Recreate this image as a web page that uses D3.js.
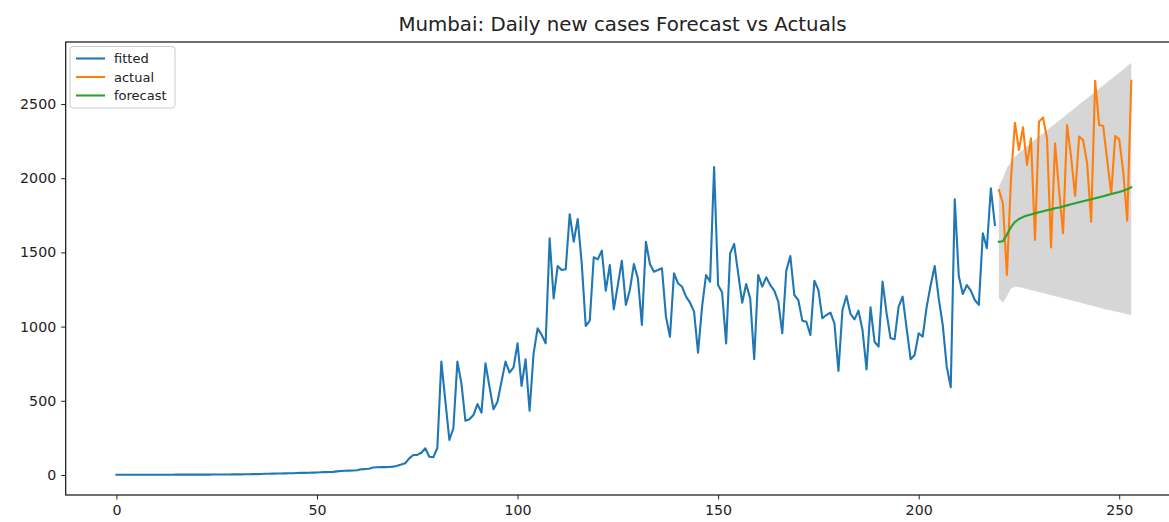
<!DOCTYPE html>
<html><head><meta charset="utf-8">
<script src="https://cdn.jsdelivr.net/npm/d3@7"></script>
<style>body{margin:0;background:#fff}svg{display:block}</style>
</head><body>
<svg id="chart" width="1169" height="522"></svg>
<script>
// ---- data ----
const title = "Mumbai: Daily new cases Forecast vs Actuals";
const seriesNames = ["fitted", "actual", "forecast"];
const xTicks = [0, 50, 100, 150, 200, 250];
const yTicks = [0, 500, 1000, 1500, 2000, 2500];

const fittedStart = 0;
const fitted = [
  1,1,1,1,1,1,1,1,1,1, 1,1,1,1,1,2,2,2,2,2, 2,2,2,2,3,3,3,3,3,4,
  4,4,5,5,6,6,7,8,8,9, 10,10,11,12,12,13,14,14,15,16, 17,18,19,20,21,24,27,28,29,30,
  32,38,40,42,50,52,53,53,54,56, 62,70,79,112,135,135,150,180,123,119,
  182,764,500,236,315,764,618,366,375,404, 478,420,752,595,443,494,630,764,690,725,
  887,600,779,433,820,988,945,887,1595,1190, 1408,1381,1386,1757,1572,1725,1426,1004,1040,1467,
  1453,1512,1242,1415,1116,1280,1444,1146,1247,1422, 1325,1011,1572,1422,1370,1381,1393,1067,932,1359,
  1292,1269,1202,1161,1101,824,1134,1348,1303,2075, 1280,1229,887,1494,1557,1359,1161,1287,1190,780,
  1348,1269,1332,1280,1242,1168,955,1377,1476,1213, 1179,1040,1033,943,1309,1247,1056,1078,1094,1022,
  701,1112,1206,1085,1049,1107,977,712,1130,898, 865,1303,1090,921,914,1134,1202,988,780,809,
  955,932,1134,1280,1408,1190,1011,730,591,1858, 1341,1220,1280,1242,1179,1146,1629,1528,1932,1685
];

const forecastStart = 220;
const actual = [
  1920,1831,1348,1990,2374,2190,2343,2089,2269,1584,
  2381,2410,2269,1534,2235,1920,1629,2358,2145,1880,
  2280,2257,2100,1707,2657,2358,2352,2123,1894,2284,
  2262,2044,1714,2657
];
const forecast = [
  1572,1575,1620,1670,1705,1725,1738,1748,1756,1763,
  1770,1777,1784,1790,1797,1803,1810,1817,1824,1831,
  1838,1845,1852,1858,1865,1872,1879,1886,1893,1900,
  1907,1915,1925,1939
];
const upper = [
  1943,1999,2070,2110,2145,2170,2193,2215,2237,2259,
  2281,2302,2324,2346,2367,2389,2410,2432,2453,2475,
  2496,2518,2539,2561,2582,2604,2625,2646,2668,2689,
  2711,2733,2756,2778
];
const lower = [
  1192,1160,1205,1255,1268,1266,1260,1254,1247,1240,
  1233,1226,1219,1212,1205,1198,1191,1184,1177,1170,
  1163,1156,1149,1142,1135,1128,1121,1114,1108,1102,
  1096,1090,1084,1078
];
const colors = ["#1f77b4", "#ff7f0e", "#2ca02c"];

// ---- layout ----
const L = 65.7, R = 1182, T = 42, B = 495;
const svg = d3.select("#chart");
const font = "DejaVu Sans, sans-serif";

const x = d3.scaleLinear().domain([-12.65, 265.65]).range([L, R]);
const y = d3.scaleLinear().domain([-135, 2918]).range([B, T]);

svg.append("defs").append("clipPath").attr("id", "clip")
  .append("rect").attr("x", L).attr("y", T).attr("width", R - L).attr("height", B - T);

const plot = svg.append("g").attr("clip-path", "url(#clip)");

const fittedPts = fitted.map((v, i) => [fittedStart + i, v]);
const actualPts = actual.map((v, i) => [forecastStart + i, v]);
const forecastPts = forecast.map((v, i) => [forecastStart + i, v]);
const bandPts = upper.map((u, i) => ({d: forecastStart + i, lo: lower[i], hi: u}));

plot.append("path").datum(bandPts)
  .attr("fill", "#d6d6d6")
  .attr("d", d3.area().x(d => x(d.d)).y0(d => y(d.lo)).y1(d => y(d.hi)));

const line = d3.line().x(d => x(d[0])).y(d => y(d[1]));
[[fittedPts, colors[0]], [actualPts, colors[1]], [forecastPts, colors[2]]].forEach(([pts, c]) => {
  plot.append("path").datum(pts)
    .attr("fill", "none").attr("stroke", c).attr("stroke-width", 2.1)
    .attr("stroke-linejoin", "round").attr("stroke-linecap", "square")
    .attr("d", line);
});

// axes
const xAxis = svg.append("g").attr("transform", `translate(0,${B})`)
  .call(d3.axisBottom(x).tickValues(xTicks).tickSize(4.5).tickPadding(5).tickFormat(d3.format("d")));
const yAxis = svg.append("g").attr("transform", `translate(${L},0)`)
  .call(d3.axisLeft(y).tickValues(yTicks).tickSize(4.5).tickPadding(5).tickFormat(d3.format("d")));
[xAxis, yAxis].forEach(g => {
  g.select(".domain").remove();
  g.selectAll("text").attr("font-family", font).attr("font-size", 14.2).attr("fill", "#222");
  g.selectAll("line").attr("stroke", "#222").attr("stroke-width", 1);
});

// frame
svg.append("rect").attr("x", L).attr("y", T).attr("width", R - L).attr("height", B - T)
  .attr("fill", "none").attr("stroke", "#111").attr("stroke-width", 1.2);

// title
svg.append("text").attr("x", 622.5).attr("y", 31)
  .attr("text-anchor", "middle").attr("font-family", font).attr("font-size", 19.8)
  .attr("fill", "#222").text(title);

// legend
const lg = svg.append("g");
lg.append("rect").attr("x", 70).attr("y", 46.5).attr("width", 105).attr("height", 61.5)
  .attr("rx", 3).attr("fill", "#fff").attr("fill-opacity", 0.8)
  .attr("stroke", "#cccccc").attr("stroke-width", 1);
seriesNames.forEach((n, i) => {
  const yy = 58.5 + i * 18.5;
  lg.append("line").attr("x1", 76).attr("x2", 105).attr("y1", yy).attr("y2", yy)
    .attr("stroke", colors[i]).attr("stroke-width", 2.1);
  lg.append("text").attr("x", 114).attr("y", yy).attr("dy", "0.35em")
    .attr("font-family", font).attr("font-size", 13).attr("fill", "#222").text(n);
});
</script>
</body></html>
